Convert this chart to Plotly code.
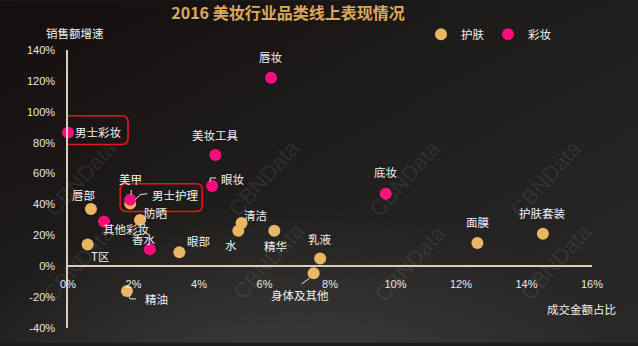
import base64
import plotly.graph_objects as go

# ---------------- data ----------------
skin_names = ["唇部", "T区", "男士护理", "防晒", "眼部", "精油", "清洁", "水", "精华",
              "乳液", "身体及其他", "面膜", "护肤套装"]
skin_share = [0.7, 0.6, 1.9, 2.2, 3.4, 1.8, 5.3, 5.2, 6.3, 7.7, 7.5, 12.5, 14.5]
skin_growth = [37, 14, 40.6, 30, 9, -16, 28, 23, 23, 5, -4.5, 15, 21]

makeup_names = ["唇妆", "男士彩妆", "美妆工具", "眼妆", "美甲", "其他彩妆", "香水", "底妆"]
makeup_share = [6.2, 0.0, 4.5, 4.4, 1.9, 1.1, 2.5, 9.7]
makeup_growth = [122, 86.5, 72, 52, 43, 29, 11, 47]

x_ticks = [0, 2, 4, 6, 8, 10, 12, 14, 16]
y_ticks = [-40, -20, 0, 20, 40, 60, 80, 100, 120, 140]

# ---------------- layout geometry ----------------
W, H = 638, 346
ML, MR, MT, MB = 68, 46, 50, 15
PW, PH = W - ML - MR, H - MT - MB
XR = [0, 16]
YR = [-40, 140]
PX_X = PW / (XR[1] - XR[0])   # px per x unit
PX_Y = PH / (YR[1] - YR[0])   # px per y unit

GOLD = "#e9b662"
PINK = "#fb0c7c"
CJK = "Noto Sans CJK SC"

def dx(px):
    return px / PX_X

def dy(px):  # px measured downward on screen
    return -px / PX_Y

# label offsets (xshift, yshift) in px, plus optional leader polyline (px offsets, screen-down)
label_style = {
    "唇妆": (0, 21, None),
    "男士彩妆": (30, 1, None),
    "美妆工具": (0, 20, None),
    "眼妆": (21, 7, [(-2, -4), (-2, -8), (4, -8)]),
    "美甲": (0, 21, [(1, -5), (1, -10)]),
    "其他彩妆": (22, -8, None),
    "香水": (-6, 10, None),
    "底妆": (0, 22, None),
    "唇部": (-7, 14, None),
    "T区": (12, -11, None),
    "男士护理": (45, 9, [(5, -4), (10, -9), (17, -10)]),
    "防晒": (15, 7, None),
    "眼部": (19, 11, None),
    "精油": (30, -8, [(2, 4), (3, 8), (9, 8)]),
    "清洁": (14, 8, None),
    "水": (-7, -14, None),
    "精华": (1, -15, None),
    "乳液": (0, 20, None),
    "身体及其他": (-14, -22, [(-4, 5), (-12, 11)]),
    "面膜": (0, 21, None),
    "护肤套装": (0, 21, None),
}

fig = go.Figure()
fig.add_trace(go.Scatter(
    x=skin_share, y=skin_growth, mode="markers", name="护肤",
    marker=dict(color=GOLD, size=12, line=dict(width=0)),
    text=skin_names, cliponaxis=False, hoverinfo="text"))
fig.add_trace(go.Scatter(
    x=makeup_share, y=makeup_growth, mode="markers", name="彩妆",
    marker=dict(color=PINK, size=12, line=dict(width=0)),
    text=makeup_names, cliponaxis=False, hoverinfo="text"))

annotations = []
shapes = []
all_pts = list(zip(skin_names, skin_share, skin_growth)) + list(zip(makeup_names, makeup_share, makeup_growth))
pt = {n: (x, y) for n, x, y in all_pts}
for n, x, y in all_pts:
    xs, ys, lead = label_style[n]
    annotations.append(dict(x=x, y=y, xref="x", yref="y", text=n, showarrow=False,
                            xshift=xs, yshift=ys, font=dict(family=CJK, size=11.5, color="#f2f2f2")))
    if lead:
        path = "M " + " L ".join(f"{x + dx(a):.4f},{y + dy(b):.4f}" for a, b in lead)
        shapes.append(dict(type="path", xref="x", yref="y", path=path,
                           line=dict(color="#e6e6e6", width=1)))

def rounded_box(name, l, r, t, b, rad=6):
    x, y = pt[name]
    x0, x1 = x + dx(l), x + dx(r)
    y0, y1 = y + dy(t), y + dy(b)  # y0 top, y1 bottom
    rx, ry = dx(rad), -dy(rad)
    p = (f"M {x0+rx},{y0} L {x1-rx},{y0} Q {x1},{y0} {x1},{y0-ry} "
         f"L {x1},{y1+ry} Q {x1},{y1} {x1-rx},{y1} L {x0+rx},{y1} Q {x0},{y1} {x0},{y1+ry} "
         f"L {x0},{y0-ry} Q {x0},{y0} {x0+rx},{y0} Z")
    return dict(type="path", xref="x", yref="y", path=p, line=dict(color="#e8141c", width=1.6),
                fillcolor="rgba(0,0,0,0)")

shapes.append(rounded_box("男士彩妆", -11, 60, -17, 12))
shapes.append(rounded_box("男士护理", -10, 72, -20, 8))

# axis titles
annotations.append(dict(xref="paper", yref="paper", x=0, y=1, xshift=7, yshift=17,
                        xanchor="center", yanchor="middle", text="销售额增速", showarrow=False,
                        font=dict(family=CJK, size=11.5, color="#f2f2f2")))
annotations.append(dict(xref="paper", yref="paper", x=1, y=0, xanchor="right", yanchor="middle",
                        xshift=26, yshift=19,
                        text="成交金额占比", showarrow=False,
                        font=dict(family=CJK, size=11.5, color="#f2f2f2")))

# watermarks
def ppos(px, py):
    return (px - ML) / PW, (H - MB - py) / PH

for cx, cy in [(37, 133), (220, 133), (405, 133), (590, 133),
               (35, 312), (225, 310), (410, 312), (600, 310)]:
    xp, yp = ppos(cx, cy)
    annotations.append(dict(xref="paper", yref="paper", x=xp, y=yp, text="CBNData", showarrow=False,
                            textangle=-48, font=dict(family="Liberation Sans", size=22,
                                                     color="rgba(210,210,210,0.11)")))

# background gradient
svg = (f'<svg xmlns="http://www.w3.org/2000/svg" width="{W}" height="{H}">'
       '<defs><linearGradient id="g" x1="0" y1="0" x2="1" y2="1">'
       '<stop offset="0" stop-color="#140e0e"/><stop offset="0.45" stop-color="#1f1c1c"/>'
       '<stop offset="1" stop-color="#2a2828"/></linearGradient>'
       '<radialGradient id="r" cx="0.45" cy="1.15" r="0.55">'
       '<stop offset="0" stop-color="#5a5654" stop-opacity="0.55"/>'
       '<stop offset="1" stop-color="#5a5654" stop-opacity="0"/></radialGradient></defs>'
       f'<rect width="{W}" height="{H}" fill="url(#g)"/>'
       f'<rect width="{W}" height="{H}" fill="url(#r)"/></svg>')
src = "data:image/svg+xml;base64," + base64.b64encode(svg.encode()).decode()

axis_line = "#dccdb6"
fig.update_layout(
    width=W, height=H,
    margin=dict(l=ML, r=MR, t=MT, b=MB, pad=0),
    paper_bgcolor="#1e1b1b", plot_bgcolor="rgba(0,0,0,0)",
    images=[dict(source=src, xref="paper", yref="paper", x=-ML / PW, y=1 + MT / PH,
                 sizex=W / PW, sizey=H / PH, sizing="stretch", layer="below",
                 xanchor="left", yanchor="top")],
    title=dict(text="<b>2016 美妆行业品类线上表现情况</b>", x=288 / W, xanchor="center",
               y=1 - 13 / H, yanchor="middle",
               font=dict(family=CJK, size=16, color="#dba95c")),
    showlegend=True,
    legend=dict(orientation="h", x=(421 - ML) / PW, xanchor="left", y=1 + (MT - 34) / PH,
                yanchor="middle", bgcolor="rgba(0,0,0,0)",
                font=dict(family=CJK, size=11.5, color="#f2f2f2"),
                itemwidth=30, tracegroupgap=0, entrywidth=22, entrywidthmode="pixels"),
    xaxis=dict(range=XR, tickvals=x_ticks, ticktext=[f"{v}%" for v in x_ticks],
               showgrid=False, zeroline=False, showline=True, linecolor=axis_line, linewidth=1.5,
               anchor="free", position=(0 - YR[0]) / (YR[1] - YR[0]),
               ticks="outside", ticklen=8, tickcolor="rgba(0,0,0,0)",
               tickfont=dict(family="Liberation Sans", size=11, color="#e8e8e8"), fixedrange=True),
    yaxis=dict(range=YR, tickvals=y_ticks, ticktext=[f"{v}%" for v in y_ticks],
               showgrid=False, zeroline=False, showline=True, linecolor=axis_line, linewidth=1.5,
               ticks="outside", ticklen=9, tickcolor="rgba(0,0,0,0)",
               tickfont=dict(family="Liberation Sans", size=11, color="#e8e8e8"), fixedrange=True),
    annotations=annotations,
    shapes=shapes,
    font=dict(family=CJK),
)

fig.write_html("out.html")
